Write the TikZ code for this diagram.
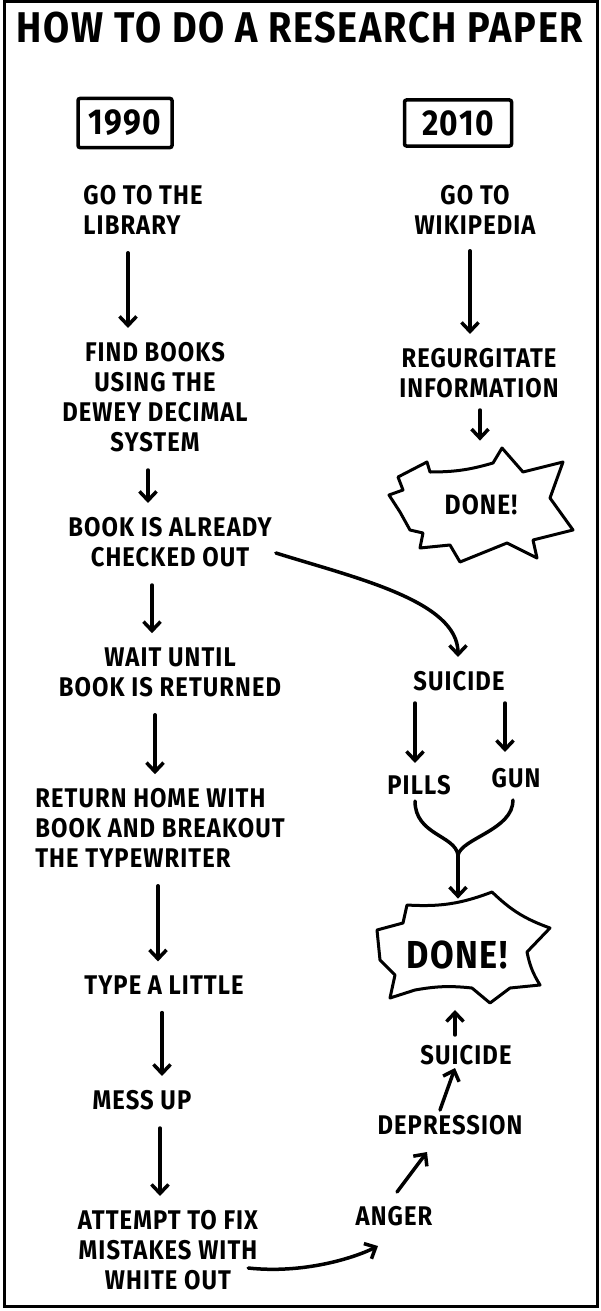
\documentclass[tikz,border=0pt]{standalone}
\usepackage{fontspec}
\setmainfont{Fira Sans}[LetterSpace=4,FakeStretch=0.88]
\usetikzlibrary{arrows.meta,calc}

\tikzset{
  lbl/.style={font=\bfseries\fontsize{27}{30}\selectfont,align=center,inner sep=0pt},
  ttl/.style={font=\bfseries\fontsize{43}{46}\selectfont,inner sep=0pt},
  yearbox/.style={draw,line width=3.5pt,rounded corners=2pt,font=\bfseries\fontsize{36}{38}\selectfont},
  arr/.style={line width=3.5pt,line cap=round,-{Straight Barb[length=9pt,width=17pt,line width=3.5pt]}},
  burst/.style={line width=3pt,line join=round},
  link/.style={line width=3.5pt,line cap=round}
}

\begin{document}
\begin{tikzpicture}[x=1pt,y=-1pt]
\useasboundingbox (0,0) rectangle (600,1311);

% frame and heading
\draw[line width=3pt] (4,2) rectangle (597,1306);
\node[ttl] (title) at (300,28) {HOW TO DO A RESEARCH PAPER};

% the two years
\node[yearbox,minimum width=94,minimum height=49] (y90) at (125,123) {1990};
\node[yearbox,minimum width=107,minimum height=46] (y10) at (458,123) {2010};

% 1990, read down the left
\node[lbl,align=left] (lib) at (143,210) {GO TO THE\\LIBRARY};
\node[lbl] (find) at (155,397) {FIND BOOKS\\USING THE\\DEWEY DECIMAL\\SYSTEM};
\node[lbl] (chk) at (170,542) {BOOK IS ALREADY\\CHECKED OUT};
\node[lbl] (wait) at (170,672) {WAIT UNTIL\\BOOK IS RETURNED};
\node[lbl,align=left] (home) at (160,828) {RETURN HOME WITH\\BOOK AND BREAKOUT\\THE TYPEWRITER};
\node[lbl] (type) at (164,985) {TYPE A LITTLE};
\node[lbl] (mess) at (142,1100) {MESS UP};
\node[lbl] (fix) at (168,1250) {ATTEMPT TO FIX\\MISTAKES WITH\\WHITE OUT};

% 2010, read down the right
\node[lbl] (wiki) at (475,210) {GO TO\\WIKIPEDIA};
\node[lbl] (regur) at (479,373) {REGURGITATE\\INFORMATION};
\node[lbl,font=\bfseries\fontsize{28}{30}\selectfont] (done1) at (481,505) {DONE!};
\node[lbl] (sui1) at (459,681) {SUICIDE};
\node[lbl] (pills) at (419,785) {PILLS};
\node[lbl] (gun) at (516,778) {GUN};
\node[lbl,font=\bfseries\fontsize{39}{40}\selectfont] (done2) at (457,955) {DONE!};
\node[lbl] (sui2) at (466,1055) {SUICIDE};
\node[lbl] (dep) at (450,1125) {DEPRESSION};
\node[lbl] (anger) at (394,1216) {ANGER};

% the two bursts
\draw[burst] (389,495) -- (403,490) -- (398,477) -- (427,462) -- (430,472)
  to[bend right=8] (493,463) -- (502,448) -- (523,472) -- (563,462) -- (550,498)
  -- (573,530) -- (533,540) -- (537,558) -- (507,543) -- (460,562) -- (450,545)
  -- (420,548) -- (423,533) -- (410,530) -- (400,512) -- cycle;
\draw[burst] (407,905) to[bend right=12] (492,892) to[bend right=12] (550,928)
  -- (527,952) to[bend right=10] (540,985) -- (510,988) -- (490,1003)
  -- (472,988) to[bend right=8] (415,990) -- (390,998) -- (395,975)
  -- (380,960) -- (377,930) -- (403,923) -- cycle;

% straight steps, left
\foreach \a/\b/\x in {lib/find/128,find/chk/148,chk/wait/152,wait/home/155,
  home/type/158,type/mess/162,mess/fix/160}
  \draw[arr,shorten <=18pt,shorten >=14pt] (\a.south -| \x,0) -- (\b.north -| \x,0);

% straight steps, right
\draw[arr,shorten <=16pt,shorten >=14pt] (wiki.south -| 470,0) -- (regur.north -| 470,0);
\draw[arr] ($(regur.south)+(1,12)$) -- ($(done1.north)+(-1,-54)$);
\draw[arr,shorten <=12pt,shorten >=12pt] (sui1.south -| 415,0) -- (pills.north -| 415,0);
\draw[arr,shorten <=12pt,shorten >=16pt] (sui1.south -| 505,0) -- (gun.north -| 505,0);

% book checked out
\draw[arr] ($(chk.east)+(4,11)$) .. controls ($(chk.east)+(84,36)$)
  and ($(sui1.north)+(-1,-70)$) .. ($(sui1.north)+(-1,-14)$);

% pills and gun join
\coordinate (join) at (458,855);
\draw[link] ($(pills.south)+(-4,6)$) .. controls ($(pills.south)+(-4,40)$)
  and ($(join)+(-3,-20)$) .. (join);
\draw[link] ($(gun.south)+(-3,12)$) .. controls ($(gun.south)+(-3,42)$)
  and ($(join)+(4,-17)$) .. (join);
\draw[arr] (join) -- ($(done2.north)+(1,-42)$);

% the way back up
\draw[arr] ($(fix.east)+(-10,18)$) .. controls ($(fix.east)+(45,24)$)
  and ($(anger.south)+(-40,32)$) .. ($(anger.south)+(-16,20)$);
\draw[arr] ($(anger.north)+(3,-14)$) -- ($(dep.south)+(-23,17)$);
\draw[arr] ($(dep.north)+(-10,-5)$) -- ($(sui2.south)+(-11,3)$);
\draw[arr] ($(sui2.north)+(-11,-10)$) -- ($(sui2.north)+(-11,-35)$);

\end{tikzpicture}
\end{document}
